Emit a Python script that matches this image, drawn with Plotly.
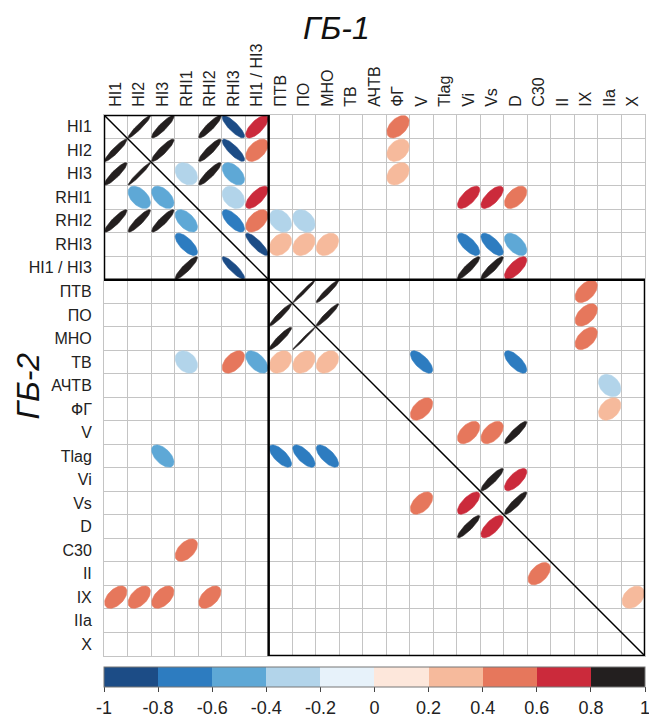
import numpy as np
import plotly.graph_objects as go

# ---------------- data ----------------
labels = ["HI1", "HI2", "HI3", "RHI1", "RHI2", "RHI3", "HI1 / HI3",
          "ПТВ", "ПО", "МНО", "ТВ", "АЧТВ", "ФГ", "V", "Tlag", "Vi", "Vs",
          "D", "C30", "II", "IX", "IIa", "X"]
group1 = labels[:7]
group2 = labels[7:]

pair_row = [
    "HI1", "HI1", "HI1", "HI1", "HI1", "HI1",
    "HI2", "HI2", "HI2", "HI2", "HI2", "HI2",
    "HI3", "HI3", "HI3", "HI3", "HI3", "HI3",
    "RHI1", "RHI1", "RHI1", "RHI1", "RHI1", "RHI1", "RHI1",
    "RHI2", "RHI2", "RHI2", "RHI2", "RHI2", "RHI2", "RHI2", "RHI2",
    "RHI3", "RHI3", "RHI3", "RHI3", "RHI3", "RHI3", "RHI3", "RHI3",
    "HI1 / HI3", "HI1 / HI3", "HI1 / HI3", "HI1 / HI3", "HI1 / HI3",
    "ПТВ", "ПТВ", "ПТВ",
    "ПО", "ПО", "ПО",
    "МНО", "МНО", "МНО",
    "ТВ", "ТВ", "ТВ", "ТВ", "ТВ", "ТВ", "ТВ", "ТВ",
    "АЧТВ",
    "ФГ", "ФГ",
    "V", "V", "V",
    "Tlag", "Tlag", "Tlag", "Tlag",
    "Vi", "Vi",
    "Vs", "Vs", "Vs",
    "D", "D",
    "C30",
    "II",
    "IX", "IX", "IX", "IX", "IX",
]
pair_col = [
    "HI2", "HI3", "RHI2", "RHI3", "HI1 / HI3", "ФГ",
    "HI1", "HI3", "RHI2", "RHI3", "HI1 / HI3", "ФГ",
    "HI1", "HI2", "RHI1", "RHI2", "RHI3", "ФГ",
    "HI2", "HI3", "RHI3", "HI1 / HI3", "Vi", "Vs", "D",
    "HI1", "HI2", "HI3", "RHI1", "RHI3", "HI1 / HI3", "ПТВ", "ПО",
    "RHI1", "HI1 / HI3", "ПТВ", "ПО", "МНО", "Vi", "Vs", "D",
    "RHI1", "RHI3", "Vi", "Vs", "D",
    "ПО", "МНО", "IX",
    "ПТВ", "МНО", "IX",
    "ПТВ", "ПО", "IX",
    "RHI1", "RHI3", "HI1 / HI3", "ПТВ", "ПО", "МНО", "V", "D",
    "IIa",
    "V", "IIa",
    "Vi", "Vs", "D",
    "HI3", "ПТВ", "ПО", "МНО",
    "Vs", "D",
    "V", "Vi", "D",
    "Vi", "Vs",
    "RHI1",
    "C30",
    "HI1", "HI2", "HI3", "RHI2", "X",
]
pair_r = [
    0.95, 0.90, 0.90, -0.84, 0.70, 0.47,
    0.93, 0.90, 0.90, -0.83, 0.50, 0.33,
    0.90, 0.97, -0.30, 0.90, -0.50, 0.33,
    -0.48, -0.50, -0.30, 0.70, 0.68, 0.70, 0.50,
    0.90, 0.90, 0.90, -0.55, -0.70, 0.50, -0.30, -0.30,
    -0.70, -0.85, 0.32, 0.32, 0.32, -0.70, -0.70, -0.52,
    0.90, -0.88, 0.90, 0.90, 0.70,
    0.98, 0.95, 0.50,
    0.95, 0.95, 0.50,
    0.93, 0.99, 0.50,
    -0.30, 0.50, -0.55, 0.32, 0.32, 0.32, -0.70, -0.70,
    -0.30,
    0.50, 0.35,
    0.50, 0.50, 0.90,
    -0.55, -0.70, -0.70, -0.70,
    0.90, 0.70,
    0.50, 0.70, 0.90,
    0.90, 0.70,
    0.50,
    0.50,
    0.50, 0.50, 0.50, 0.50, 0.35,
]

cbar_ticks = [-1, -0.8, -0.6, -0.4, -0.2, 0, 0.2, 0.4, 0.6, 0.8, 1]
cbar_text = ["-1", "-0.8", "-0.6", "-0.4", "-0.2", "0", "0.2", "0.4", "0.6", "0.8", "1"]
bin_colors = ["#1c4c86", "#2d7cc0", "#5ea8d6", "#b2d4ea", "#e7f2fa",
              "#fde7db", "#f6ba9c", "#e6775c", "#cb2a3b", "#231f1f"]

# ---------------- helpers ----------------
n = len(labels)
idx = {lab: i for i, lab in enumerate(labels)}
FONT = "Arial, Liberation Sans, sans-serif"

colorscale = []
for k, c in enumerate(bin_colors):
    colorscale.append([k / len(bin_colors), c])
    colorscale.append([(k + 1) / len(bin_colors), c])


def bin_of(r):
    return min(int((r + 1) / 0.2), len(bin_colors) - 1)


def ellipse(cx, cy, r, s=0.475, m=60):
    d = np.arccos(np.clip(r, -1, 1))
    k = np.linspace(0, 2 * np.pi, m)
    ex = cx + s * np.cos(k + d / 2)
    ey = cy - s * np.cos(k - d / 2)  # y axis reversed
    return ex, ey


fig = go.Figure()

# colour bar carrier (points at cell centres)
cx_all = [idx[c] + 0.5 for c in pair_col]
cy_all = [idx[r] + 0.5 for r in pair_row]
fig.add_trace(go.Scatter(
    x=cx_all, y=cy_all, mode="markers", hoverinfo="skip", showlegend=False,
    marker=dict(size=1, color=pair_r, cmin=-1, cmax=1, colorscale=colorscale,
                showscale=True,
                colorbar=dict(orientation="h", x=0.5, xanchor="center",
                              y=-0.021, yanchor="top", len=1.0, lenmode="fraction",
                              thickness=20, xpad=0, ypad=0,
                              outlinewidth=1, outlinecolor="#777777",
                              tickmode="array", tickvals=cbar_ticks, ticktext=cbar_text,
                              ticks="outside", ticklen=5, tickcolor="#444444",
                              ticklabeloverflow="allow",
                              tickfont=dict(family=FONT, size=18, color="#222222"))),
))

# ellipses, one trace per colour bin
for b, col in enumerate(bin_colors):
    xs, ys = [], []
    for rr, cc, v in zip(pair_row, pair_col, pair_r):
        if bin_of(v) != b:
            continue
        ex, ey = ellipse(idx[cc] + 0.5, idx[rr] + 0.5, v)
        xs += list(ex) + [None]
        ys += list(ey) + [None]
    if xs:
        fig.add_trace(go.Scatter(x=xs, y=ys, mode="lines", fill="toself",
                                 fillcolor=col, line=dict(width=0.6, color=col),
                                 hoverinfo="skip", showlegend=False))

# diagonal and group boxes
g1 = len(group1)
shapes = [
    dict(type="line", x0=0, y0=0, x1=n, y1=n, xref="x", yref="y",
         line=dict(color="black", width=1.5)),
    dict(type="rect", x0=0, y0=0, x1=g1, y1=g1, xref="x", yref="y",
         line=dict(color="black", width=2.5)),
    dict(type="rect", x0=g1, y0=g1, x1=n, y1=n, xref="x", yref="y",
         line=dict(color="black", width=2.5)),
]

centers = [i + 0.5 for i in range(n)]
grid = list(range(n + 1))

fig.update_layout(
    width=649, height=723, autosize=False,
    margin=dict(l=104, r=4, t=115, b=67),
    paper_bgcolor="white", plot_bgcolor="white",
    shapes=shapes,
    xaxis=dict(range=[0, n], side="top", tickmode="array", tickvals=centers,
               ticktext=labels, tickangle=-90, showgrid=False, zeroline=False,
               showline=True, linecolor="#c4c4c4", linewidth=1, mirror=True,
               ticks="", ticklabelstandoff=4, automargin=False,
               tickfont=dict(family=FONT, size=16, color="#222222"),
               minor=dict(tickmode="array", tickvals=grid, showgrid=True,
                          gridcolor="#c4c4c4", gridwidth=1, ticks=""),
               fixedrange=True),
    yaxis=dict(range=[n, 0], tickmode="array", tickvals=centers, ticktext=labels,
               showgrid=False, zeroline=False, showline=True, linecolor="#c4c4c4",
               linewidth=1, mirror=True, ticks="", ticklabelstandoff=8,
               automargin=False,
               tickfont=dict(family=FONT, size=16, color="#222222"),
               minor=dict(tickmode="array", tickvals=grid, showgrid=True,
                          gridcolor="#c4c4c4", gridwidth=1, ticks=""),
               fixedrange=True),
    annotations=[
        dict(text="ГБ-1", x=0.43, y=1.161, xref="paper", yref="paper",
             xanchor="center", yanchor="middle", showarrow=False,
             font=dict(family=FONT, size=32, style="italic", color="#111111")),
        dict(text="ГБ-2", x=-0.14, y=0.4986, xref="paper", yref="paper",
             xanchor="center", yanchor="middle", showarrow=False, textangle=-90,
             font=dict(family=FONT, size=32, style="italic", color="#111111")),
    ],
)

fig.write_html("out.html",
               config={"displayModeBar": False, "staticPlot": True},
               post_script="document.body.style.margin='0';document.body.style.overflow='hidden';")
